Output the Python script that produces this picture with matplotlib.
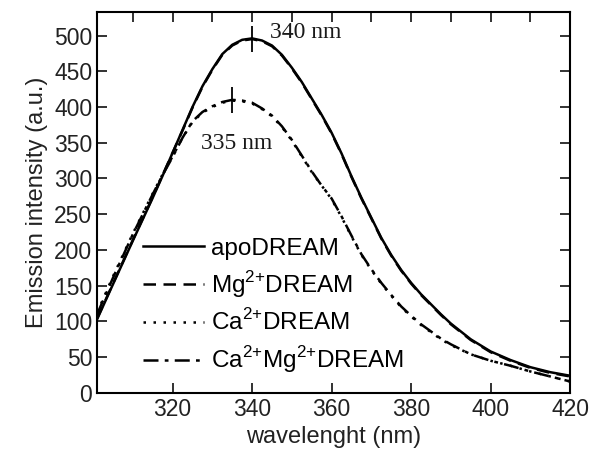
import matplotlib
matplotlib.use('Agg')
import matplotlib.pyplot as plt
from matplotlib.ticker import MultipleLocator

plt.rcParams['font.family'] = ['Liberation Sans', 'DejaVu Sans']
plt.rcParams['mathtext.fontset'] = 'custom'
plt.rcParams['mathtext.rm'] = 'Liberation Sans'

# данные
wl = [301, 305, 310, 315, 317.5, 320, 322.5, 325, 327.5, 330, 332.5, 335, 337.5,
      340, 342.5, 345, 347.5, 350, 352.5, 355, 357.5, 360, 362.5, 365, 367.5,
      370, 372.5, 375, 377.5, 380, 382.5, 385, 387.5, 390, 395, 400, 405, 410,
      415, 420]
apo = [103, 152, 213, 273, 304, 336, 368, 400, 429, 453, 474, 487, 494,
       496, 493, 486, 473, 455, 435, 412, 389, 364, 335, 303, 273,
       245, 217, 193, 172, 154, 138, 124, 110, 97, 75, 58, 46, 36,
       29, 24]
mg = [104, 153, 214, 274, 305, 336, 367, 399, 428, 452, 473, 486, 493,
      495, 492, 485, 472, 454, 434, 411, 388, 363, 334, 302, 272,
      244, 216, 192, 171, 153, 137, 123, 109, 96, 74, 57, 45, 35,
      28, 23]
ca = [112, 163, 223, 279, 306, 331, 357, 379, 392, 400, 406, 409, 408,
      405, 397, 387, 372, 353, 331, 309, 290, 271, 246, 219, 193,
      172, 153, 136, 120, 107, 95, 85, 75, 67, 54, 45, 38, 30,
      23, 16]
camg = [110, 161, 222, 278, 305, 330, 357, 380, 393, 401, 407, 410, 409,
        406, 398, 388, 373, 354, 332, 310, 290, 272, 247, 220, 194,
        173, 154, 137, 121, 108, 96, 86, 76, 68, 54, 45, 38, 30,
        23, 16]

peak_wl = [340, 335]
peak_int = [495, 410]
peak_txt = ['340 nm', '335 nm']
txt_x = [344.5, 327.2]
txt_y = [504, 349]

fig = plt.figure(figsize=(5.92, 4.59), dpi=100)
ax = fig.add_axes([0.164, 0.144, 0.799, 0.830])

ax.plot(wl, apo, color='black', lw=1.8, ls='-', label='apoDREAM')
ax.plot(wl, mg, color='black', lw=1.8, ls=(0, (5, 3)), label='Mg$^{2{+}}$DREAM')
ax.plot(wl, ca, color='black', lw=1.8, ls=(0, (1, 3)), label='Ca$^{2{+}}$DREAM')
ax.plot(wl, camg, color='black', lw=1.8, ls=(0, (6, 2.5, 1.5, 2.5)),
        label='Ca$^{2{+}}$Mg$^{2{+}}$DREAM')

# отметки максимумов
ax.plot(peak_wl, peak_int, ls='none', marker='|', ms=19, mew=1.3, color='black')
for t, x, y in zip(peak_txt, txt_x, txt_y):
    ax.text(x, y, t, va='center', ha='left', fontsize=17,
            family=['Liberation Serif', 'DejaVu Serif'], color='#1a1a1a')

ax.set_xlim(301, 420)
ax.set_ylim(0, 533)
ax.xaxis.set_major_locator(MultipleLocator(20))
ax.xaxis.set_minor_locator(MultipleLocator(10))
ax.yaxis.set_major_locator(MultipleLocator(50))
ax.tick_params(which='both', direction='in', length=7, width=1.3,
               top=True, right=True, labelsize=16.5, colors='#222222')
ax.tick_params(which='minor', bottom=False)
for s in ax.spines.values():
    s.set_linewidth(1.5)

ax.set_xlabel('wavelenght (nm)', fontsize=17, color='#222222')
ax.set_ylabel('Emission intensity (a.u.)', fontsize=17, color='#222222')

ax.legend(loc='upper left', bbox_to_anchor=(0.097, 0.407), frameon=False,
          fontsize=17.5, handlelength=2.5, handletextpad=0.3,
          labelspacing=0.38, borderpad=0, borderaxespad=0)

plt.savefig('out.png', dpi=100)
